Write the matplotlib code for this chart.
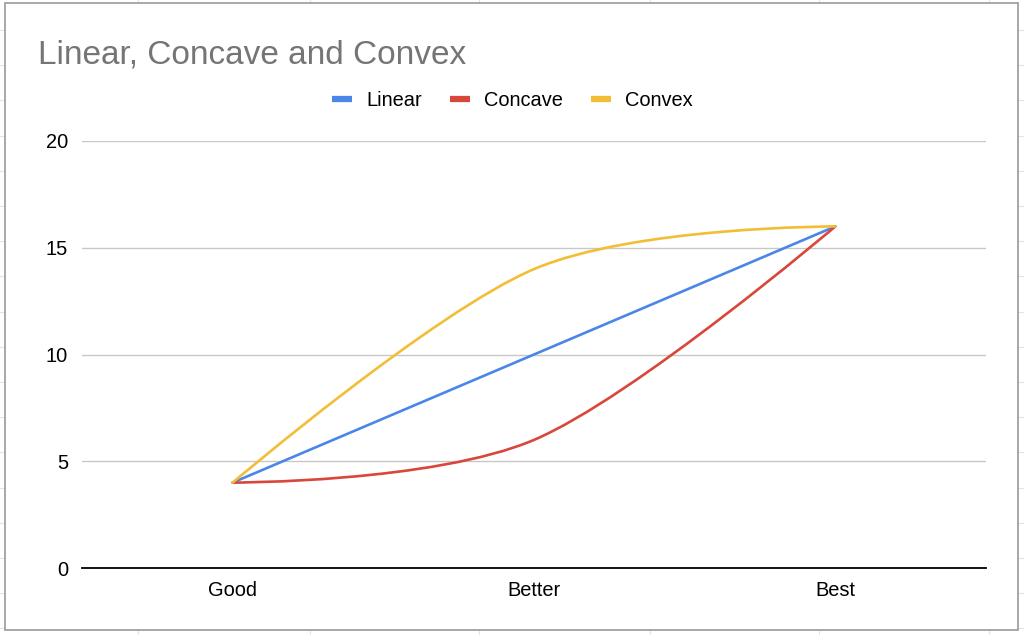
import numpy as np
import matplotlib.pyplot as plt
from matplotlib.path import Path
from matplotlib.patches import PathPatch, Rectangle
from matplotlib.lines import Line2D

plt.rcParams['font.family'] = ['Liberation Sans', 'DejaVu Sans']

# data
categories = ['Good', 'Better', 'Best']
linear = [4, 10, 16]
concave = [4, 6, 16]
convex = [4, 14, 16]
series_names = ['Linear', 'Concave', 'Convex']
colors = ['#4A86E8', '#D9463A', '#F2BE35']


def smooth_path(xs, ys, k=0.25):
    # cubic bezier through the points; tangents shrunk so the curve never overshoots
    xs = np.asarray(xs, float)
    ys = np.asarray(ys, float)
    n = len(xs)
    tx = np.zeros(n)
    ty = np.zeros(n)
    for i in range(1, n - 1):
        tx[i] = (xs[i + 1] - xs[i - 1]) * k
        ty[i] = (ys[i + 1] - ys[i - 1]) * k
        s = 1.0
        if ty[i] != 0:
            s = min(s, abs(ys[i] - ys[i - 1]) / abs(ty[i]), abs(ys[i + 1] - ys[i]) / abs(ty[i]))
        tx[i] *= s
        ty[i] *= s
    verts = [(xs[0], ys[0])]
    codes = [Path.MOVETO]
    for i in range(n - 1):
        verts += [(xs[i] + tx[i], ys[i] + ty[i]),
                  (xs[i + 1] - tx[i + 1], ys[i + 1] - ty[i + 1]),
                  (xs[i + 1], ys[i + 1])]
        codes += [Path.CURVE4] * 3
    return Path(verts, codes)


W, H = 1024, 635
fig = plt.figure(figsize=(W / 100, H / 100), dpi=100)

# spreadsheet cells behind the chart
for x in [138, 310, 479, 650, 819, 989]:
    fig.add_artist(Line2D([x / W, x / W], [0, 1], color='#e3e3e3', lw=0.8, zorder=0))
for y in np.arange(30, 635, 35.2):
    fig.add_artist(Line2D([0, 1], [1 - y / H, 1 - y / H], color='#e3e3e3', lw=0.8, zorder=0))
fig.add_artist(Rectangle((5 / W, 1 - 630 / H), 1013 / W, 627 / H,
                         facecolor='white', edgecolor='#9a9a9a', lw=1.2, zorder=1))

ax = fig.add_axes([82 / W, (H - 568) / H, (986 - 82) / W, (568 - 141) / H])
ax.set_zorder(2)
ax.patch.set_visible(False)

xpos = np.arange(len(categories))
for vals, c in zip([linear, concave, convex], colors):
    ax.add_patch(PathPatch(smooth_path(xpos, vals), facecolor='none',
                           edgecolor=c, lw=1.9, capstyle='round', joinstyle='round'))

ax.set_xlim(-0.5, 2.5)
ax.set_ylim(0, 20)
ax.set_yticks([0, 5, 10, 15, 20])
ax.set_xticks(xpos)
ax.set_xticklabels(categories)
ax.yaxis.grid(True, color='#c8c8c8', lw=1)
ax.set_axisbelow(True)
for s in ['top', 'right', 'left']:
    ax.spines[s].set_visible(False)
ax.spines['bottom'].set_color('black')
ax.spines['bottom'].set_linewidth(1.3)
ax.spines['bottom'].set_zorder(3)
ax.tick_params(axis='both', length=0, labelsize=14.4, colors='black')
ax.tick_params(axis='y', pad=10)
ax.tick_params(axis='x', pad=9)

fig.text(38 / W, 1 - 64 / H, 'Linear, Concave and Convex', fontsize=24,
         color='#757575', va='baseline', ha='left', zorder=3)

handles = [Line2D([], [], color=c, lw=4.5, solid_capstyle='butt') for c in colors]
fig.legend(handles, series_names, loc='center', bbox_to_anchor=(0.5, 1 - 100 / H),
           ncol=3, frameon=False, fontsize=14.4, handlelength=1.0,
           handletextpad=0.7, columnspacing=1.4)

fig.savefig('out.png', dpi=100)
